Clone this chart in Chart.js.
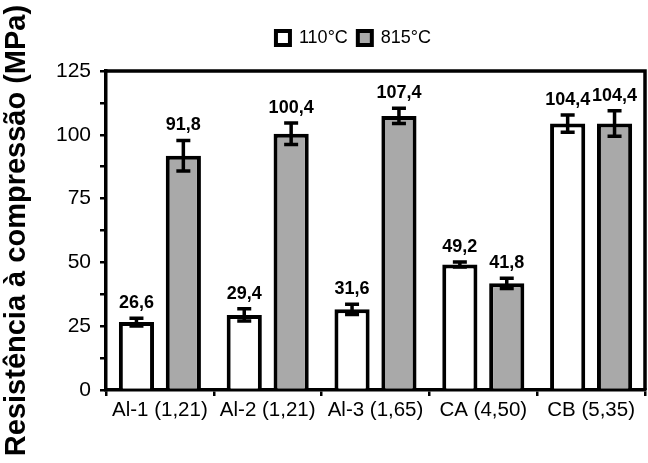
<!DOCTYPE html>
<html>
<head>
<meta charset="utf-8">
<script src="https://cdn.jsdelivr.net/npm/chart.js@4.4.0/dist/chart.umd.min.js"></script>
<style>
html,body{margin:0;padding:0;background:#fff;}
#wrap{width:648px;height:463px;}
</style>
</head>
<body>
<div id="wrap"><canvas id="c" width="648" height="463"></canvas></div>
<script>
const categories = ['Al-1 (1,21)', 'Al-2 (1,21)', 'Al-3 (1,65)', 'CA (4,50)', 'CB (5,35)'];
const seriesNames = ['110°C', '815°C'];
const values110 = [26.6, 29.4, 31.6, 49.2, 104.4];
const values815 = [91.8, 100.4, 107.4, 41.8, 104.4];
const err110 = [1.5, 2.4, 2.0, 1.0, 3.4];
const err815 = [6.0, 4.2, 3.0, 2.0, 5.0];
const labels110 = ['26,6', '29,4', '31,6', '49,2', '104,4'];
const labels815 = ['91,8', '100,4', '107,4', '41,8', '104,4'];
const yTicks = [0, 25, 50, 75, 100, 125];

const FONT = "'Liberation Sans', Arial, sans-serif";

const errorPlugin = {
  id: 'errs',
  afterDatasetsDraw(chart) {
    const ctx = chart.ctx;
    const y = chart.scales.y;
    const errs = [err110, err815];
    const labs = [labels110, labels815];
    ctx.save();
    chart.data.datasets.forEach((ds, i) => {
      const meta = chart.getDatasetMeta(i);
      meta.data.forEach((bar, j) => {
        const v = ds.data[j];
        const e = errs[i][j];
        const x = bar.x;
        const yt = y.getPixelForValue(v + e);
        const yb = y.getPixelForValue(v - e);
        ctx.strokeStyle = '#000';
        ctx.lineWidth = 3.5;
        ctx.beginPath();
        ctx.moveTo(x, yt); ctx.lineTo(x, yb);
        ctx.moveTo(x - 7, yt); ctx.lineTo(x + 7, yt);
        ctx.moveTo(x - 7, yb); ctx.lineTo(x + 7, yb);
        ctx.stroke();
        ctx.fillStyle = '#000';
        ctx.font = "bold 18px " + FONT;
        ctx.textAlign = 'center';
        ctx.textBaseline = 'alphabetic';
        ctx.fillText(labs[i][j], x, yt - 10);
      });
    });
    const a = chart.chartArea;
    ctx.lineWidth = 3.5;
    ctx.beginPath();
    ctx.moveTo(a.left, a.top);
    ctx.lineTo(a.right, a.top);
    ctx.lineTo(a.right, a.bottom);
    ctx.stroke();
    ctx.restore();
  }
};

const legendFitPlugin = {
  id: 'legendFit',
  beforeInit(chart) {
    const orig = chart.legend.fit;
    chart.legend.fit = function () {
      orig.call(this);
      this.height += 14;
    };
  },
  afterLayout(chart) {
    chart.legend.left += 31;
    chart.legend.right += 31;
  }
};

new Chart(document.getElementById('c'), {
  type: 'bar',
  data: {
    labels: categories,
    datasets: [
      { label: seriesNames[0], data: values110, backgroundColor: '#ffffff', borderColor: '#000', borderWidth: 4 },
      { label: seriesNames[1], data: values815, backgroundColor: '#a9a9a9', borderColor: '#000', borderWidth: 4 }
    ]
  },
  options: {
    responsive: false,
    animation: false,
    devicePixelRatio: 1,
    layout: { padding: { top: 19, right: 3, bottom: 0, left: 0 } },
    datasets: { bar: { categoryPercentage: 0.87, barPercentage: 0.75 } },
    plugins: {
      legend: {
        display: true,
        position: 'top',
        labels: {
          boxWidth: 14, boxHeight: 14, color: '#000',
          font: { family: FONT, size: 18 },
          padding: 10
        }
      },
      tooltip: { enabled: false },
      title: { display: false }
    },
    scales: {
      x: {
        grid: { offset: true, drawOnChartArea: false, tickLength: 6, color: '#000', lineWidth: 2.5 },
        border: { color: '#000', width: 3.5 },
        ticks: { color: '#000', font: { family: FONT, size: 20.5 }, padding: 2, maxRotation: 0, autoSkip: false },
        afterFit(s) { s.height = 73; }
      },
      y: {
        min: 0, max: 125,
        grid: { drawOnChartArea: false, tickLength: 6, color: '#000', lineWidth: 2.5 },
        border: { color: '#000', width: 3.5 },
        ticks: {
          stepSize: 12.5, color: '#000', font: { family: FONT, size: 21 }, padding: 9,
          callback: (v) => yTicks.includes(v) ? String(v) : ''
        },
        title: { display: true, text: 'Resistência à compressão (MPa)', color: '#000', font: { family: FONT, size: 29, weight: 'bold' }, padding: 0 },
        afterFit(s) { s.width = 106; }
      }
    }
  },
  plugins: [errorPlugin, legendFitPlugin]
});
</script>
</body>
</html>
